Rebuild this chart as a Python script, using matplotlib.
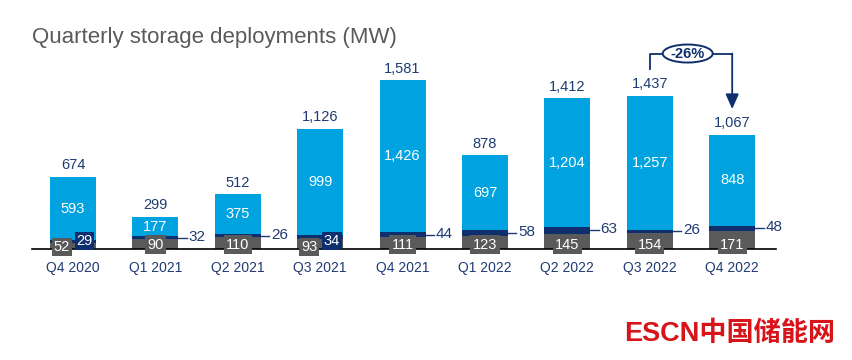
import matplotlib.pyplot as plt
from matplotlib.patches import Ellipse

plt.rcParams['font.family'] = ['Liberation Sans', 'DejaVu Sans']

quarters = ['Q4 2020', 'Q1 2021', 'Q2 2021', 'Q3 2021', 'Q4 2021',
            'Q1 2022', 'Q2 2022', 'Q3 2022', 'Q4 2022']
grey_vals = [52, 90, 110, 93, 111, 123, 145, 154, 171]
navy_vals = [29, 32, 26, 34, 44, 58, 63, 26, 48]
blue_vals = [593, 177, 375, 999, 1426, 697, 1204, 1257, 848]
totals = [674, 299, 512, 1126, 1581, 878, 1412, 1437, 1067]
boxed = [0, 3]  # quarters where the two small labels sit side by side in boxes

BLUE = '#00A3E0'
NAVY = '#0F2E6E'
GREY = '#5A5A5A'
TXT = '#1F3B73'

fig = plt.figure(figsize=(8.53, 3.6), dpi=100)
ax = fig.add_axes([0, 0, 1, 1])
# pixel mapping: bar centres at 73 + 82.4*i, baseline 111 px above bottom
ppm = 0.1067
ax.set_xlim(-73 / 82.4, (853 - 73) / 82.4)
ax.set_ylim(-111 / ppm, (360 - 111) / ppm)
ax.axis('off')

x = list(range(len(quarters)))
w = 0.56
ax.bar(x, grey_vals, w, color=GREY, zorder=2)
ax.bar(x, navy_vals, w, bottom=grey_vals, color=NAVY, zorder=2)
bot2 = [g + n for g, n in zip(grey_vals, navy_vals)]
ax.bar(x, blue_vals, w, bottom=bot2, color=BLUE, zorder=2)

ax.plot([(32 - 73) / 82.4, (776 - 73) / 82.4], [0, 0], color='black', lw=1.2, zorder=3)

for i in x:
    ax.text(i, bot2[i] + blue_vals[i] / 2, f'{blue_vals[i]:,}', ha='center', va='center',
            color='white', fontsize=10.5, zorder=4)
    ax.text(i, totals[i] + 45, f'{totals[i]:,}', ha='center', va='bottom',
            color=TXT, fontsize=10.5)
    ax.text(i, -175, quarters[i], ha='center', va='center', color=TXT, fontsize=10)
    if i in boxed:
        ax.text(i - 0.135, 20, str(grey_vals[i]), ha='center', va='center', color='white',
                fontsize=10.5, zorder=5,
                bbox=dict(boxstyle='square,pad=0.12', fc=GREY, ec='none'))
        ax.text(i + 0.14, 75, str(navy_vals[i]), ha='center', va='center', color='white',
                fontsize=10.5, zorder=5,
                bbox=dict(boxstyle='square,pad=0.12', fc=NAVY, ec='none'))
    else:
        ax.text(i, 40, str(grey_vals[i]), ha='center', va='center', color='white',
                fontsize=10.5, zorder=5,
                bbox=dict(boxstyle='square,pad=0.16', fc=GREY, ec='none'))
        yl = grey_vals[i] + navy_vals[i] / 2
        ax.plot([i + w / 2, i + w / 2 + 0.1], [yl, yl], color=TXT, lw=1, zorder=5)
        ax.text(i + w / 2 + 0.12, yl + 10, str(navy_vals[i]), ha='left', va='center',
                color=TXT, fontsize=11)

# change annotation Q3 2022 -> Q4 2022
a, b = 7, 8
ytop = totals[a] + 395
ax.plot([a, a, b], [totals[a] + 250, ytop, ytop], color=NAVY, lw=1.3, zorder=3)
ax.annotate('', xy=(b, totals[b] + 245), xytext=(b, ytop),
            arrowprops=dict(arrowstyle='-|>,head_width=0.4,head_length=0.9',
                            color=NAVY, lw=1.3, shrinkA=0, shrinkB=0))
pct = round((totals[b] - totals[a]) / totals[a] * 100)
xm = (a + b) / 2 - 0.04
ax.add_patch(Ellipse((xm, ytop), 50 / 82.4, 18 / ppm, fc='white', ec=NAVY, lw=1.4, zorder=4))
ax.text(xm, ytop, f'{pct}%', ha='center', va='center', color=NAVY, fontsize=10.5,
        fontweight='bold', zorder=5)

fig.text(32 / 853, 1 - 37 / 360, 'Quarterly storage deployments (MW)', ha='left', va='center',
         color=GREY, fontsize=16)
fig.text(624 / 853, 26 / 360, 'ESCN中国储能网', ha='left', va='center', color='#D7141A',
         fontsize=19.5, fontweight='bold', family=['Liberation Sans', 'Noto Sans CJK SC'])

fig.savefig('out.png', dpi=100)
